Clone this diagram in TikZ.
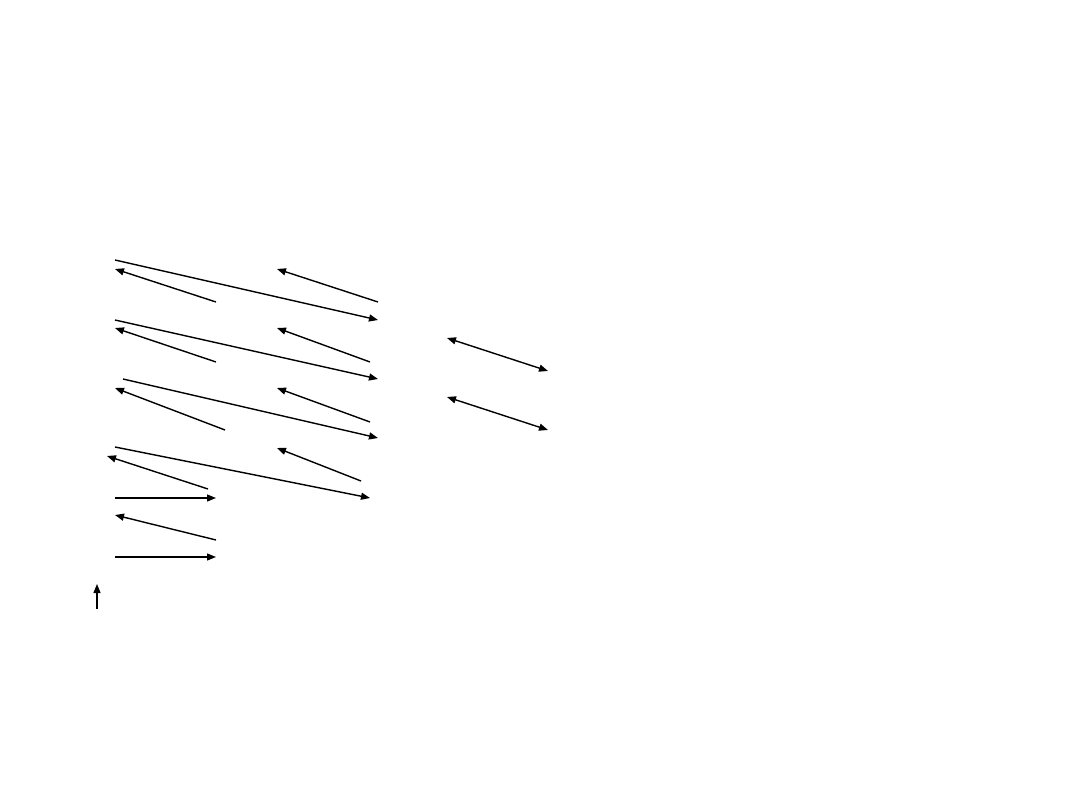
\documentclass[tikz,border=0pt]{standalone}
\usetikzlibrary{arrows.meta}
\begin{document}
\begin{tikzpicture}[x=1pt,y=-1pt,
  arr/.style={line width=1.4pt,-{Triangle[length=9pt,width=7pt]}},
  darr/.style={line width=1.4pt,{Triangle[length=9pt,width=7pt]}-{Triangle[length=9pt,width=7pt]}}]
\useasboundingbox[fill=white] (0,0) rectangle (1080,810);
% row 1
\coordinate (a1) at (115,260); \coordinate (a2) at (378,320);
\coordinate (b1) at (216,302); \coordinate (b2) at (115,269);
\coordinate (c1) at (378,302); \coordinate (c2) at (277,269);
% row 2
\coordinate (d1) at (115,320); \coordinate (d2) at (378,379);
\coordinate (e1) at (216,362); \coordinate (e2) at (115,328);
\coordinate (f1) at (370,362); \coordinate (f2) at (277,328);
\coordinate (g1) at (447,338); \coordinate (g2) at (548,371);
% row 3
\coordinate (h1) at (123,379); \coordinate (h2) at (378,438);
\coordinate (i1) at (225,430); \coordinate (i2) at (115,388);
\coordinate (j1) at (370,422); \coordinate (j2) at (277,388);
\coordinate (k1) at (447,397); \coordinate (k2) at (548,430);
% row 4
\coordinate (l1) at (115,447); \coordinate (l2) at (370,498);
\coordinate (m1) at (208,489); \coordinate (m2) at (107,456);
\coordinate (n1) at (361,481); \coordinate (n2) at (277,448);
\coordinate (o1) at (115,498); \coordinate (o2) at (216,498);
\coordinate (p1) at (216,540); \coordinate (p2) at (115,515);
\coordinate (q1) at (115,557); \coordinate (q2) at (216,557);
\coordinate (r1) at (97,609); \coordinate (r2) at (97,584);
\foreach \s in {a,b,c,d,e,f,h,i,j,l,m,n,o,p,q,r}
  \draw[arr] (\s1) -- (\s2);
\draw[darr] (g1) -- (g2);
\draw[darr] (k1) -- (k2);
\end{tikzpicture}
\end{document}
